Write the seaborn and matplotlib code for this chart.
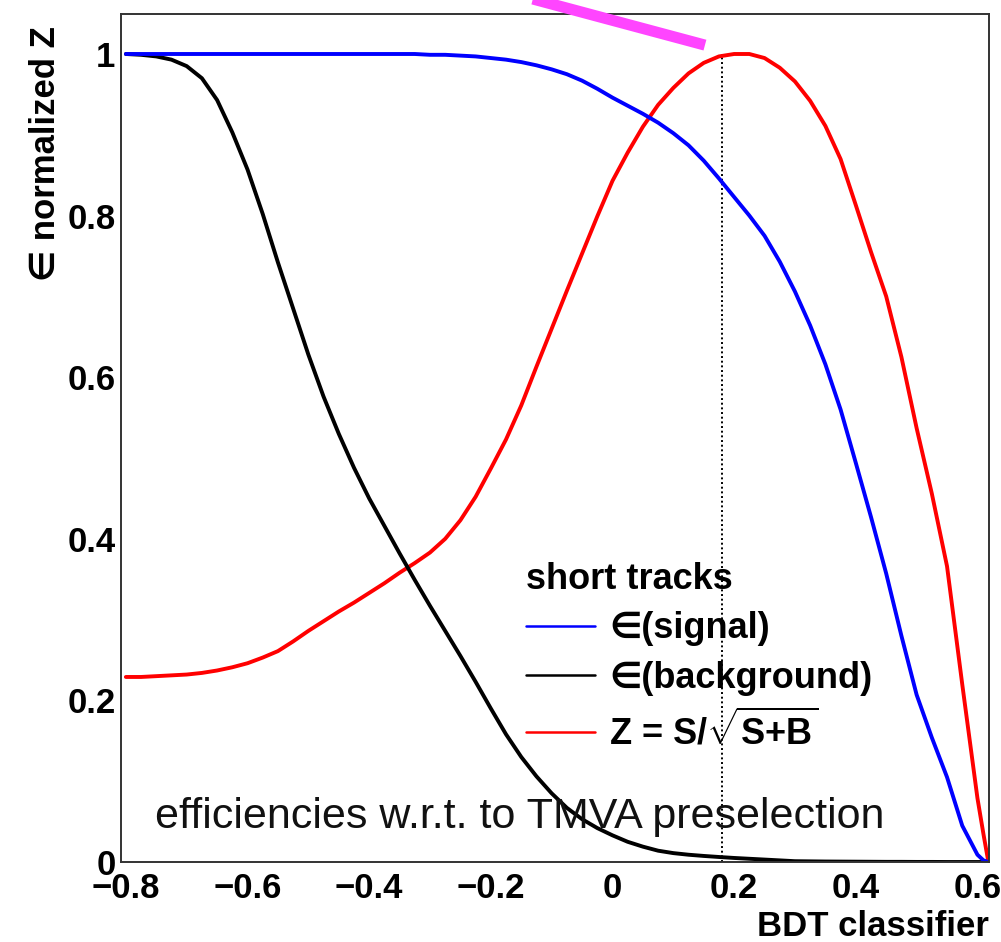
import matplotlib
matplotlib.use("Agg")
import matplotlib.pyplot as plt
from matplotlib.ticker import MultipleLocator, FuncFormatter
import pandas as pd
import seaborn as sns

# BDT cut values and the resulting efficiencies / normalised significance
bdt_cut = [-0.800, -0.775, -0.750, -0.725, -0.700, -0.675, -0.650, -0.625, -0.600, -0.575,
           -0.550, -0.525, -0.500, -0.475, -0.450, -0.425, -0.400, -0.375, -0.350, -0.325,
           -0.300, -0.275, -0.250, -0.225, -0.200, -0.175, -0.150, -0.125, -0.100, -0.075,
           -0.050, -0.025, 0.000, 0.025, 0.050, 0.075, 0.100, 0.125, 0.150, 0.175,
           0.200, 0.225, 0.250, 0.275, 0.300, 0.325, 0.350, 0.375, 0.400, 0.425,
           0.450, 0.475, 0.500, 0.525, 0.550, 0.575, 0.600, 0.610, 0.618]

eff_signal = [1.000, 1.000, 1.000, 1.000, 1.000, 1.000, 1.000, 1.000, 1.000, 1.000,
              1.000, 1.000, 1.000, 1.000, 1.000, 1.000, 1.000, 1.000, 1.000, 1.000,
              0.999, 0.999, 0.998, 0.997, 0.995, 0.993, 0.990, 0.986, 0.981, 0.975,
              0.967, 0.957, 0.946, 0.936, 0.926, 0.915, 0.902, 0.887, 0.868, 0.846,
              0.823, 0.800, 0.775, 0.743, 0.706, 0.664, 0.616, 0.560, 0.494, 0.427,
              0.357, 0.280, 0.207, 0.154, 0.105, 0.045, 0.009, 0.002, 0.000]

eff_background = [1.000, 0.999, 0.997, 0.993, 0.985, 0.970, 0.943, 0.903, 0.857, 0.802,
                  0.742, 0.685, 0.628, 0.576, 0.530, 0.488, 0.450, 0.416, 0.382, 0.349,
                  0.317, 0.286, 0.255, 0.223, 0.190, 0.158, 0.130, 0.106, 0.085, 0.067,
                  0.053, 0.042, 0.033, 0.025, 0.019, 0.014, 0.011, 0.009, 0.0075, 0.0062,
                  0.005, 0.004, 0.003, 0.002, 0.001, 0.0008, 0.0006, 0.0005, 0.0004, 0.0003,
                  0.0002, 0.0002, 0.0001, 0.0001, 0.000, 0.000, 0.000, 0.000, 0.000]

z_normalized = [0.229, 0.229, 0.230, 0.231, 0.232, 0.234, 0.237, 0.241, 0.246, 0.253,
                0.261, 0.273, 0.286, 0.298, 0.310, 0.321, 0.333, 0.345, 0.358, 0.370,
                0.383, 0.400, 0.423, 0.452, 0.487, 0.523, 0.565, 0.613, 0.660, 0.707,
                0.753, 0.799, 0.843, 0.878, 0.910, 0.937, 0.958, 0.976, 0.989, 0.997,
                1.000, 1.000, 0.995, 0.983, 0.966, 0.942, 0.911, 0.870, 0.813, 0.755,
                0.700, 0.625, 0.537, 0.456, 0.366, 0.220, 0.079, 0.034, 0.000]

optimal_cut = 0.18

# hand-drawn highlight stroke near the top of the frame
highlight_x = [-0.200, 0.152]
highlight_y = [1.082, 1.011]

x_ticks = [-0.8, -0.6, -0.4, -0.2, 0.0, 0.2, 0.4, 0.6]
y_ticks = [0.0, 0.2, 0.4, 0.6, 0.8, 1.0]

legend_title = "short tracks"
label_signal = "\u2208(signal)"
label_background = "\u2208(background)"
label_z = r"Z = S/$\sqrt{\mathrm{S{+}B}}$"
x_title = "BDT classifier"
y_title = "\u2208 normalized Z"
note = "efficiencies w.r.t. to TMVA preselection"

df = pd.DataFrame({
    "bdt": bdt_cut,
    "signal": eff_signal,
    "background": eff_background,
    "z": z_normalized,
})

sns.set_theme(style="white")
plt.rcParams["font.family"] = ["Liberation Sans", "DejaVu Sans"]
plt.rcParams["text.color"] = "black"
plt.rcParams["axes.labelcolor"] = "black"
plt.rcParams["xtick.color"] = "black"
plt.rcParams["ytick.color"] = "black"
plt.rcParams["mathtext.fontset"] = "custom"
plt.rcParams["mathtext.rm"] = "Liberation Sans:bold"
plt.rcParams["mathtext.it"] = "Liberation Sans:bold"
plt.rcParams["mathtext.bf"] = "Liberation Sans:bold"

W, H = 1001, 942
fig = plt.figure(figsize=(W / 100, H / 100), dpi=100)
ax = fig.add_axes([121 / W, 1 - 862 / H, (989 - 121) / W, (862 - 14) / H])

lw = 2.8
line_kw = dict(linewidth=lw, ax=ax, sort=False, solid_joinstyle="round")
sns.lineplot(data=df, x="bdt", y="z", color="#ff0000", label=label_z, **line_kw)
sns.lineplot(data=df, x="bdt", y="background", color="#000000",
             label=label_background, **line_kw)
sns.lineplot(data=df, x="bdt", y="signal", color="#0000ff", label=label_signal, **line_kw)

ax.vlines(optimal_cut, 0, max(z_normalized), colors="black",
          linestyles=(0, (1.0, 1.4)), linewidth=1.4, zorder=1)

ax.plot(highlight_x, highlight_y, color="#ff45ff", linewidth=8.0,
        solid_capstyle="butt", clip_on=False, zorder=5)

ax.set_xlim(-0.808, 0.619)
ax.set_ylim(0, 1.0495)

ax.set_xticks(x_ticks)
ax.set_yticks(y_ticks)
ax.xaxis.set_minor_locator(MultipleLocator(0.05))
ax.yaxis.set_minor_locator(MultipleLocator(0.05))
fmt = FuncFormatter(lambda v, p: ("%g" % round(v, 3)).replace("-", "\u2212"))
ax.xaxis.set_major_formatter(fmt)
ax.yaxis.set_major_formatter(fmt)

tick_font = 25
ax.tick_params(axis="both", which="both", direction="in", top=False, right=False,
               color="#333333", labelcolor="black", width=1.2)
ax.tick_params(axis="both", which="major", length=18)
ax.tick_params(axis="both", which="minor", length=8.6)
ax.tick_params(axis="x", which="major", pad=7, labelsize=tick_font)
ax.tick_params(axis="y", which="major", pad=4, labelsize=tick_font)
for lab in ax.get_xticklabels() + ax.get_yticklabels():
    lab.set_fontweight("bold")

for sp in ax.spines.values():
    sp.set_visible(True)
    sp.set_color("#333333")
    sp.set_linewidth(1.4)

ax.set_xlabel(x_title, fontsize=25, fontweight="bold", loc="right", color="black")
ax.xaxis.set_label_coords(1.0, (862 - 926) / 848)
ax.xaxis.label.set_va("center")

ax.set_ylabel(y_title, fontsize=25, fontweight="bold", color="black")
ax.yaxis.set_label_coords((45 - 121) / 868, (862 - 154) / 848)
ax.yaxis.label.set_va("center")

ax.text((520 - 121) / 868, (862 - 817) / 848, note, transform=ax.transAxes,
        ha="center", va="center", fontsize=31, fontweight="normal", color="#111111")

handles, labels = ax.get_legend_handles_labels()
order = [labels.index(label_signal), labels.index(label_background), labels.index(label_z)]
leg = ax.legend([handles[i] for i in order], [labels[i] for i in order],
                title=legend_title, loc="upper left",
                bbox_to_anchor=(526 / W, 1 - 562 / H), bbox_transform=fig.transFigure,
                frameon=False, borderpad=0, borderaxespad=0,
                prop={"weight": "bold", "size": 26},
                title_fontproperties={"weight": "bold", "size": 26},
                handlelength=1.9, handletextpad=0.4, labelspacing=0.40,
                alignment="left")
for ln in leg.get_lines():
    ln.set_linewidth(1.8)
for t in leg.get_texts():
    t.set_color("black")
leg.get_title().set_color("black")

fig.savefig("out.png", dpi=100)
